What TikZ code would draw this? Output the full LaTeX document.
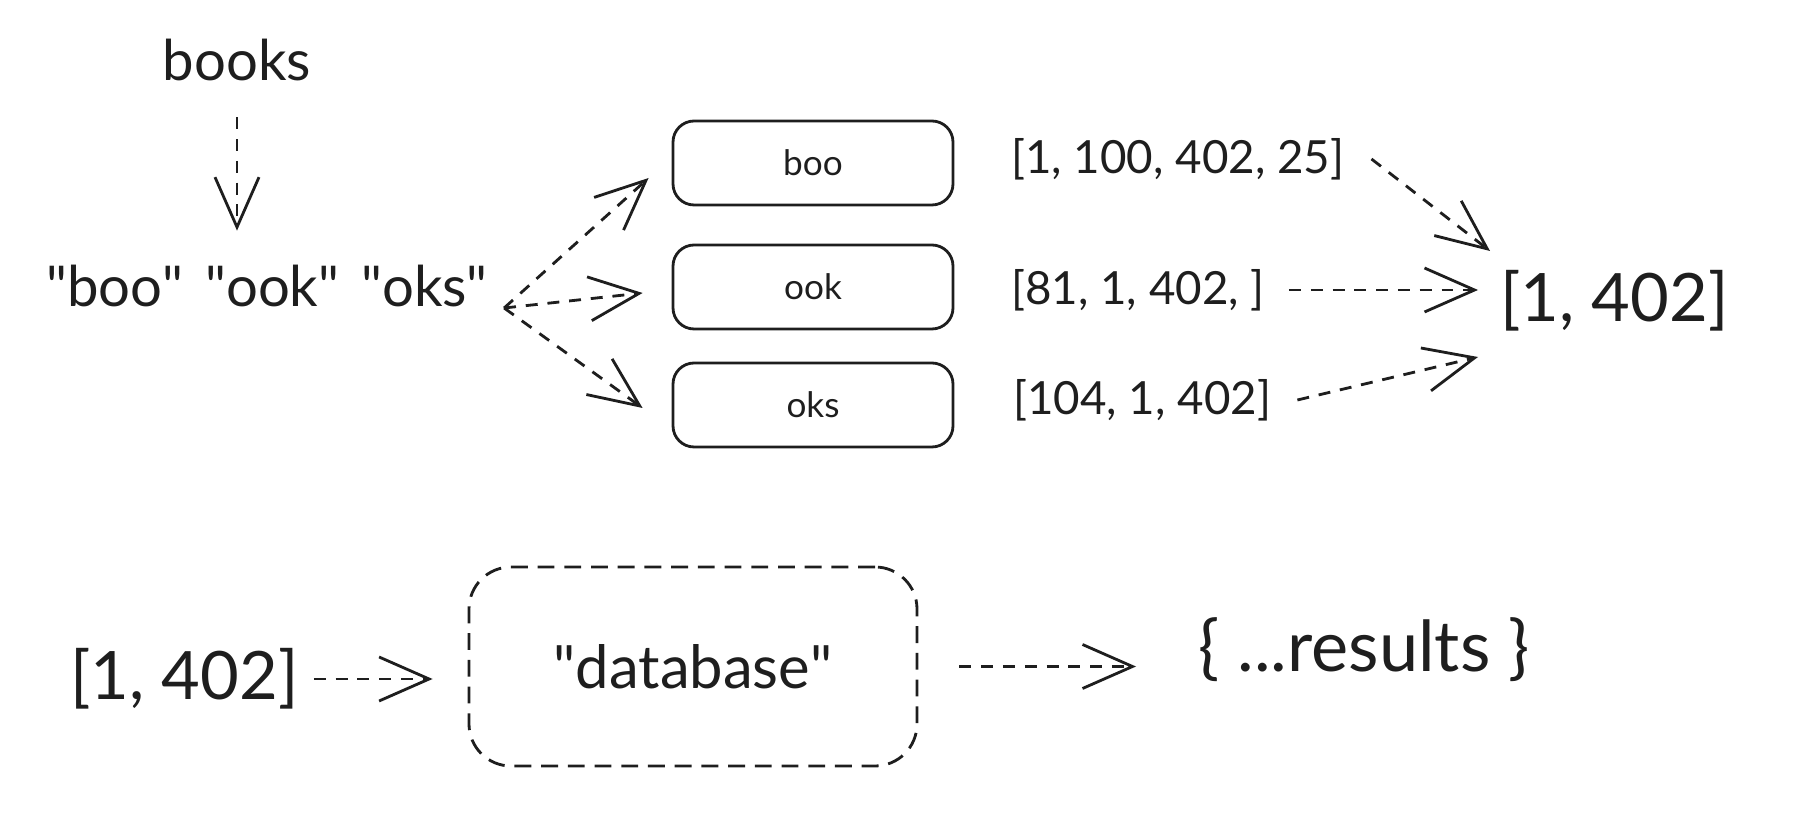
\documentclass[tikz,border=0pt]{standalone}
\usepackage{fontspec}
\setmainfont{Lato}
\usetikzlibrary{arrows.meta,positioning,calc}
\usepackage{xcolor}
\definecolor{skink}{RGB}{30,30,30}

\begin{document}
\begin{tikzpicture}[
  skink, line width=0.8pt,
  word/.style={inner sep=0pt, text=skink, font=\fontsize{16}{18}\selectfont},
  big/.style={inner sep=0pt, text=skink, font=\fontsize{19}{22}\selectfont},
  lst/.style={inner sep=0pt, anchor=west, text=skink, font=\fontsize{13}{15}\selectfont},
  cell/.style={draw=skink, rounded corners=6pt, minimum width=2.8cm, minimum height=0.84cm,
    inner sep=0pt, font=\fontsize{10}{12}\selectfont},
  dbbox/.style={draw=skink, dash pattern=on 4.8pt off 2.8pt, rounded corners=0.42cm,
    minimum width=4.48cm, minimum height=1.99cm, inner sep=0pt, font=\fontsize{17}{20}\selectfont},
  arr/.style={-{Straight Barb[length=5mm,width=4.4mm,line width=0.8pt]}, skink,
    dash pattern=on 3.4pt off 2.8pt}
]
\useasboundingbox (0,0) rectangle (18.04,8.14);

\node[word] (books) at (2.37,7.54) {books};
\node[word, font=\fontsize{16}{18}\selectfont] (split) at (2.67,5.28)
  {\textquotedbl boo\textquotedbl\hspace{0.22cm}\textquotedbl ook\textquotedbl\hspace{0.22cm}\textquotedbl oks\textquotedbl};
\coordinate (fork) at ([xshift=1.5mm,yshift=-2.2mm]split.east);

\node[cell] (boo) at (8.13,6.51) {boo};
\node[cell] (ook) at (8.13,5.27) {ook};
\node[cell] (oks) at (8.13,4.09) {oks};

\node[lst] (l1) at (10.10,6.55) {[1, 100, 402, 25]};
\node[lst] (l2) at (10.10,5.24) {[81, 1, 402, ]};
\node[lst] (l3) at (10.12,4.14) {[104, 1, 402]};
\node[big, anchor=west] (res) at (14.99,5.13) {[1, 402]};

\node[big, anchor=west] (q) at (0.69,1.35) {[1, 402]};
\node[dbbox] (db) at (6.93,1.475) {\textquotedbl database\textquotedbl};
\node[big, anchor=west, font=\fontsize{20}{22}\selectfont] (out) at (11.97,1.64) {\{ ...results \}};

\draw[arr, shorten <=3.5mm, shorten >=3.3mm] (books.south) -- (books.south |- split.north);
\draw[arr] (fork) -- ([xshift=-2.3mm,yshift=-1.5mm]boo.west);
\draw[arr] (fork) -- ([xshift=-2.9mm,yshift=-0.6mm]ook.west);
\draw[arr] (fork) -- ([xshift=-2.9mm,yshift=-0.3mm]oks.west);

\draw[arr] ([xshift=2.6mm]l1.east) -- ([xshift=-0.9mm,yshift=5mm]res.west);
\draw[arr, shorten <=2.3mm, shorten >=2.1mm] (l2.east) -- (l2.east -| res.west);
\draw[arr] ([xshift=2.5mm]l3.east) -- ([xshift=-2.1mm,yshift=-5.6mm]res.west);

\draw[arr, shorten <=1.4mm, shorten >=3.5mm] (q.east) -- (q.east -| db.west);
\draw[arr, shorten <=4.1mm, shorten >=6.1mm] (db.east) -- (db.east -| out.west);
\end{tikzpicture}
\end{document}
